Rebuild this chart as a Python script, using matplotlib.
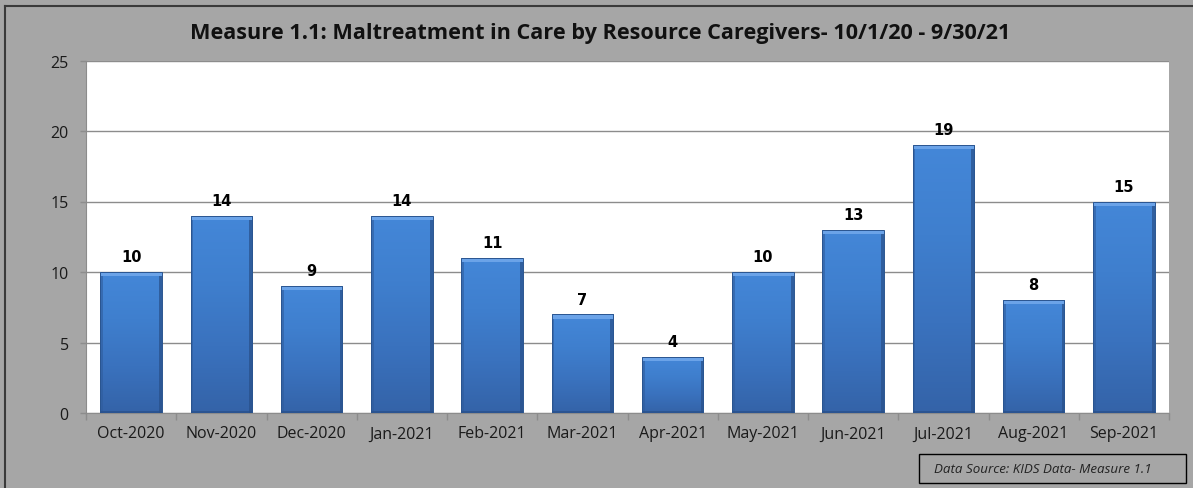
import numpy as np
import matplotlib.pyplot as plt
from matplotlib.patches import Rectangle
from matplotlib.colors import LinearSegmentedColormap

# --- data ---
months = ["Oct-2020", "Nov-2020", "Dec-2020", "Jan-2021", "Feb-2021", "Mar-2021",
          "Apr-2021", "May-2021", "Jun-2021", "Jul-2021", "Aug-2021", "Sep-2021"]
counts = [10, 14, 9, 14, 11, 7, 4, 10, 13, 19, 8, 15]
y_ticks = [0, 5, 10, 15, 20, 25]

title = "Measure 1.1: Maltreatment in Care by Resource Caregivers- 10/1/20 - 9/30/21"
source = "Data Source: KIDS Data- Measure 1.1"

plt.rcParams['font.family'] = ['Open Sans', 'DejaVu Sans']

W, H = 1193, 489
fig = plt.figure(figsize=(W / 100, H / 100), dpi=100)
fig.patch.set_facecolor('#A6A6A6')

# outer frame (left + top edges)
fig.add_artist(plt.Line2D([5 / W, 5 / W], [0, 1 - 7 / H], color='#3A3A3A', lw=1.5))
fig.add_artist(plt.Line2D([5 / W, 1], [1 - 7 / H, 1 - 7 / H], color='#3A3A3A', lw=1.5))

# plot area
left, right, top, bottom = 86, 1169, 61.5, 414
ax = fig.add_axes([left / W, 1 - bottom / H, (right - left) / W, (bottom - top) / H])
ax.set_facecolor('white')

x = np.arange(len(months))
bar_w = 0.68

# bevelled blue bars: vertical gradient, light top edge, darker sides
cmap = LinearSegmentedColormap.from_list('bev', ['#3463A8', '#3A72BE', '#3F7FCE', '#4487D8'])
grad = np.linspace(0, 1, 128).reshape(-1, 1)
for xi, v in zip(x, counts):
    x0 = xi - bar_w / 2
    rect = Rectangle((x0, 0), bar_w, v, facecolor='#3D7BC6', edgecolor='none', zorder=3)
    ax.add_patch(rect)
    im = ax.imshow(grad, cmap=cmap, origin='lower', extent=[x0, x0 + bar_w, 0, v], aspect='auto', zorder=3.1)
    im.set_clip_path(rect)
    ax.add_patch(Rectangle((x0, 0), 0.03, v, facecolor='#2F5C9C', edgecolor='none', alpha=0.6, zorder=3.2))
    ax.add_patch(Rectangle((x0 + bar_w - 0.03, 0), 0.03, v, facecolor='#284F88', edgecolor='none', alpha=0.7, zorder=3.2))
    ax.add_patch(Rectangle((x0, 0), bar_w, 0.12, facecolor='#284F88', edgecolor='none', alpha=0.7, zorder=3.2))
    ax.add_patch(Rectangle((x0, v - 0.3), bar_w, 0.3, facecolor='#6BA3E8', edgecolor='none', zorder=3.2))
    ax.add_patch(Rectangle((x0, 0), bar_w, v, facecolor='none', edgecolor='#2A5590', lw=0.7, zorder=3.3))
    ax.text(xi, v + 0.55, str(v), ha='center', va='bottom', fontsize=10.5, fontweight='bold',
            family='DejaVu Sans', color='black', zorder=4)

ax.set_xlim(-0.5, len(months) - 0.5)
ax.set_ylim(0, 25)
ax.set_yticks(y_ticks)
ax.set_yticklabels([str(t) for t in y_ticks], fontsize=11.5, color='#1A1A1A')
ax.yaxis.grid(True, color='#8C8C8C', lw=1)
ax.set_axisbelow(True)
ax.tick_params(axis='y', colors='#8C8C8C', labelcolor='#1A1A1A', length=4.5, width=1, pad=8)

ax.set_xticks(x)
ax.set_xticklabels(months, fontsize=11.5, color='#1A1A1A')
ax.set_xticks(np.arange(-0.5, len(months)), minor=True)
ax.tick_params(axis='x', which='major', length=0, pad=9)
ax.tick_params(axis='x', which='minor', length=5, width=1, color='#8C8C8C')

for s in ['top', 'right']:
    ax.spines[s].set_visible(False)
ax.spines['left'].set_color('#8C8C8C')
ax.spines['bottom'].set_color('#8C8C8C')

fig.text(600 / W, 1 - 33 / H, title, ha='center', va='center', fontsize=15.6, fontweight='bold', color='#111111')

# source box
fig.add_artist(Rectangle((919 / W, 1 - 484 / H), (1186 - 919) / W, 29 / H, transform=fig.transFigure,
                         facecolor='none', edgecolor='black', lw=1))
fig.text(1043 / W, 1 - 470 / H, source, ha='center', va='center', fontsize=9.6, style='italic', color='#222222')

fig.savefig('out.png', dpi=100, facecolor=fig.get_facecolor())
